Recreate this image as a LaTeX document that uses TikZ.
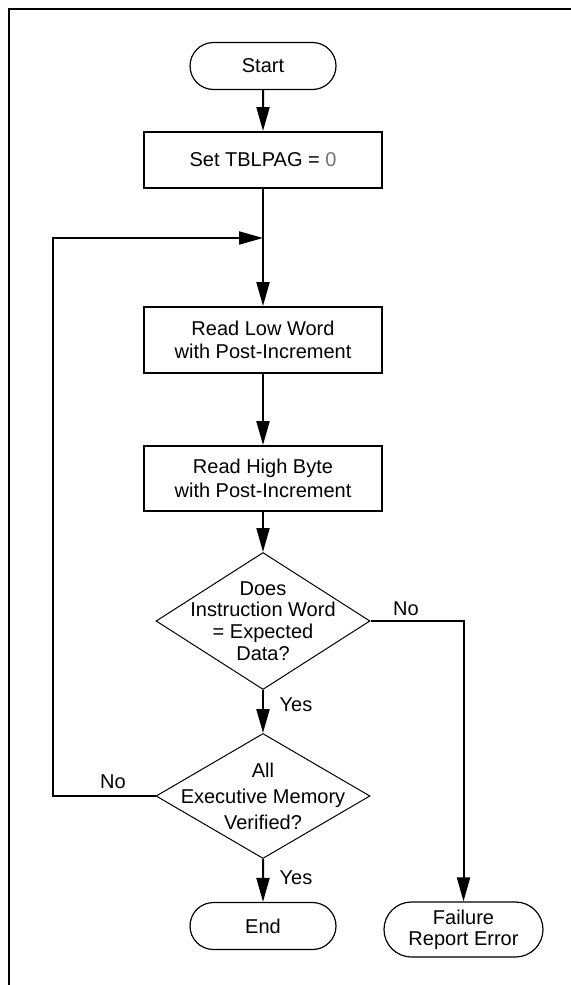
\documentclass[tikz,border=0pt]{standalone}
\usepackage{fontspec}
\setmainfont{Liberation Sans}
\usetikzlibrary{shapes.geometric,shapes.misc,arrows.meta}

\begin{document}
\begin{tikzpicture}[x=0.75pt,y=-0.75pt,>={Triangle[length=18pt,width=9.75pt]}]

% --- Global TikZ Styles ---
\tikzset{
    terminal/.style={
        rounded rectangle,
        draw,
        line width=0.9pt,
        inner sep=0pt,
        minimum width=109.5pt,
        minimum height=35.25pt,
        align=center,
        font=\fontsize{15}{16}\selectfont
    },
    process/.style={
        rectangle,
        draw,
        line width=1.5pt,
        inner sep=0pt,
        minimum width=178.5pt,
        align=center,
        font=\fontsize{15}{17.5}\selectfont
    },
    decision/.style={
        diamond,
        draw,
        line width=0.75pt,
        inner sep=-30pt,
        minimum width=160.5pt,
        align=center,
        font=\fontsize{15}{16.2}\selectfont
    },
    flow/.style={
        ->,
        line width=1.5pt
    },
    frameline/.style={
        line width=1.8pt
    },
    answer/.style={
        font=\fontsize{15}{16}\selectfont
    }
}

\useasboundingbox (0,0) rectangle (571,985);

% ==================================================
% --- Outer frame ---
% ==================================================

\draw[frameline] (571,9) -- (9,9) -- (9,985);

% ==================================================
% --- Steps ---
% ==================================================

\node[terminal] (start) at (263,66) {Start};

\node[process, minimum height=42pt] (settbl) at (263,160)
    {Set TBLPAG = \textcolor{black!55}{0}};

\node[process, minimum height=49.5pt] (readlow) at (263,340)
    {Read Low Word\\with Post-Increment};

\node[process, minimum height=48.75pt] (readhigh) at (263,478.5)
    {Read High Byte\\with Post-Increment};

% Decisions
\node[decision, minimum height=102.75pt] (chkword) at (263,621)
    {Does\\Instruction Word\\= Expected\\Data?};

\node[decision, minimum height=93.75pt,
      font=\fontsize{15}{19.5}\selectfont] (chkall) at (263,796)
    {All\\Executive Memory\\Verified?};

% Ends
\node[terminal] (finish) at (263,926) {End};

\node[terminal, minimum width=119.25pt, minimum height=41.25pt] (failure)
    at (463.5,929.5) {Failure\\Report Error};

% ==================================================
% --- Connectors ---
% ==================================================

\coordinate (join) at (263,238);

\draw[flow] (start) -- (settbl);
\draw[flow] (settbl) -- (readlow);
\draw[flow] (readlow) -- (readhigh);
\draw[flow] (readhigh) -- (chkword);
\draw[flow] (chkword) -- (chkall);
\draw[flow] (chkall) -- (finish);

% Mismatch
\draw[flow] (chkword.east) -| (failure.north);

% Loop back
\draw[flow] (chkall.west) -- ++(-103,0) |- (join);

% Answers
\node[answer] (nofail) at (406,609) {No};
\node[answer] (yesword) at (296,705) {Yes};
\node[answer] (noloop) at (113,782) {No};
\node[answer] (yesall) at (296,878) {Yes};

\end{tikzpicture}
\end{document}
